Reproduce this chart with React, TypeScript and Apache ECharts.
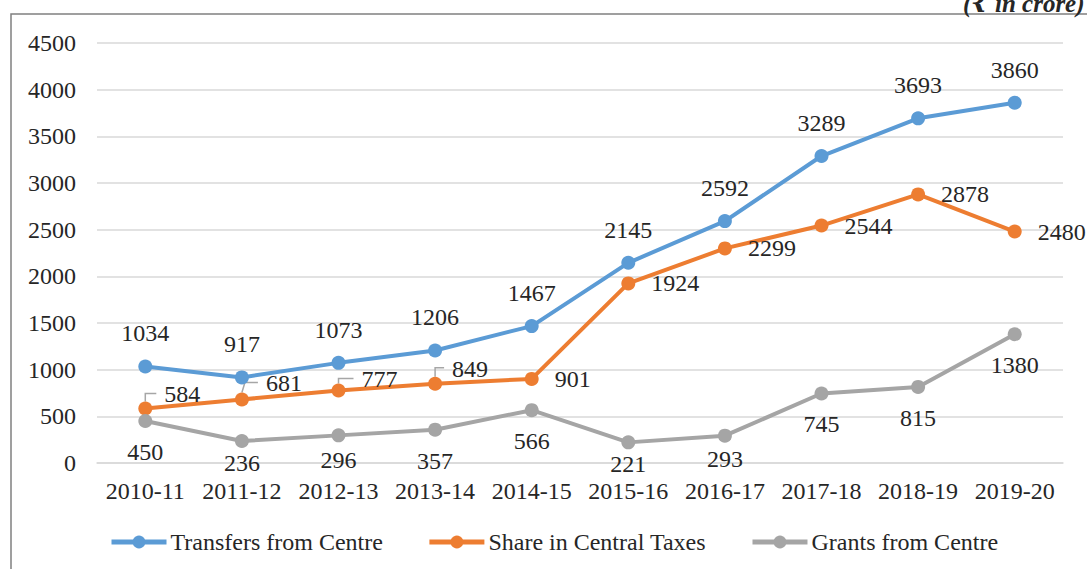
import React, { useEffect, useRef } from "react";
import * as echarts from "echarts";

const categories = ["2010-11", "2011-12", "2012-13", "2013-14", "2014-15", "2015-16", "2016-17", "2017-18", "2018-19", "2019-20"];
const transfers = [1034, 917, 1073, 1206, 1467, 2145, 2592, 3289, 3693, 3860];
const shareTaxes = [584, 681, 777, 849, 901, 1924, 2299, 2544, 2878, 2480];
const grants = [450, 236, 296, 357, 566, 221, 293, 745, 815, 1380];
const seriesNames = ["Transfers from Centre", "Share in Central Taxes", "Grants from Centre"];
const unitText = "(₹ in crore)";

// label offsets (style) for the callout labels of the orange series
const shareCallouts: Record<number, [number, number]> = {
  0: [-4, -14],
  1: [1, -16],
  2: [0, -11],
  3: [-6, -15],
};
// label nudges (style) for grey labels kept inside the plot area
const grantNudges: Record<number, [number, number]> = {
  1: [0, -9],
  2: [0, -6],
  5: [0, -9],
  6: [0, -8],
};

const FONT = "Times New Roman, Liberation Serif, DejaVu Serif, serif";
const TEXT = "#262626";
const BLUE = "#5B9BD5";
const ORANGE = "#ED7D31";
const GRAY = "#A5A5A5";
const FS = 24;
const SYM = 14;
const RIGHT_DIST = 16;

export default function App() {
  const ref = useRef<HTMLDivElement>(null);
  useEffect(() => {
    if (!ref.current) return;
    const chart = echarts.init(ref.current, undefined, { renderer: "svg" });
    const labelBase = { show: true, color: TEXT, fontFamily: FONT, fontSize: FS };
    const option: any = {
      animation: false,
      backgroundColor: "#ffffff",
      textStyle: { fontFamily: FONT },
      grid: { left: 97, right: 24, top: 43, bottom: 106 },
      legend: {
        left: 109,
        top: 530,
        padding: 0,
        itemWidth: 55,
        itemHeight: 16,
        itemGap: 44,
        lineStyle: { width: 5 },
        textStyle: { color: TEXT, fontFamily: FONT, fontSize: FS, padding: [0, 0, 0, -1] },
        data: seriesNames,
      },
      xAxis: {
        type: "category",
        data: categories,
        boundaryGap: true,
        axisLine: { show: true, lineStyle: { color: "#D9D9D9", width: 1.5 } },
        axisTick: { show: false },
        axisLabel: { color: TEXT, fontFamily: FONT, fontSize: FS, margin: 16, interval: 0 },
      },
      yAxis: {
        type: "value",
        min: 0,
        max: 4500,
        interval: 500,
        axisLine: { show: false },
        axisTick: { show: false },
        splitLine: { lineStyle: { color: "#D9D9D9", width: 1.5 } },
        axisLabel: {
          color: TEXT,
          fontFamily: FONT,
          fontSize: FS,
          margin: 21,
          formatter: (v: number) => String(v),
        },
      },
      series: [
        {
          name: seriesNames[0],
          type: "line",
          data: transfers,
          symbol: "circle",
          symbolSize: SYM,
          lineStyle: { color: BLUE, width: 4 },
          itemStyle: { color: BLUE },
          label: { ...labelBase, position: "top", distance: 14 },
        },
        {
          name: seriesNames[1],
          type: "line",
          data: shareTaxes.map((v, i) =>
            shareCallouts[i] ? { value: v, label: { offset: shareCallouts[i] } } : v
          ),
          symbol: "circle",
          symbolSize: SYM,
          lineStyle: { color: ORANGE, width: 4 },
          itemStyle: { color: ORANGE },
          label: { ...labelBase, position: "right", distance: RIGHT_DIST },
        },
        {
          name: seriesNames[2],
          type: "line",
          data: grants.map((v, i) =>
            grantNudges[i] ? { value: v, label: { offset: grantNudges[i] } } : v
          ),
          symbol: "circle",
          symbolSize: SYM,
          lineStyle: { color: GRAY, width: 4 },
          itemStyle: { color: GRAY },
          label: { ...labelBase, position: "bottom", distance: 12 },
        },
      ],
    };
    chart.setOption(option);

    const graphics: any[] = [
      {
        type: "rect",
        shape: { x: 11, y: 14, width: 1200, height: 700 },
        style: { fill: "none", stroke: "#808080", lineWidth: 1.5 },
        silent: true,
      },
      {
        type: "text",
        x: 963,
        y: 16,
        style: {
          text: unitText,
          fontFamily: FONT,
          fontSize: 25,
          fontStyle: "italic",
          fontWeight: "bold",
          fill: TEXT,
          align: "left",
          verticalAlign: "bottom",
        },
      },
    ];
    Object.keys(shareCallouts).forEach((k) => {
      const i = Number(k);
      const p = chart.convertToPixel({ seriesIndex: 1 }, [i, shareTaxes[i]]) as number[];
      const off = shareCallouts[i];
      const lx = p[0] + SYM / 2 + RIGHT_DIST + off[0];
      const ly = p[1] + off[1] - 1;
      graphics.push({
        type: "polyline",
        z: 1,
        shape: {
          points: [
            [p[0], p[1] - SYM / 2],
            [p[0] + (i === 1 ? 3 : 0), ly],
            [lx - 8, ly],
          ],
        },
        style: { stroke: "#A6A6A6", lineWidth: 1.5, fill: "none" },
        silent: true,
      });
    });
    chart.setOption({ graphic: graphics });

    return () => chart.dispose();
  }, []);
  return (
    <div
      ref={ref}
      style={{ position: "fixed", left: 0, top: 0, width: 1087, height: 569, background: "#fff" }}
    />
  );
}
